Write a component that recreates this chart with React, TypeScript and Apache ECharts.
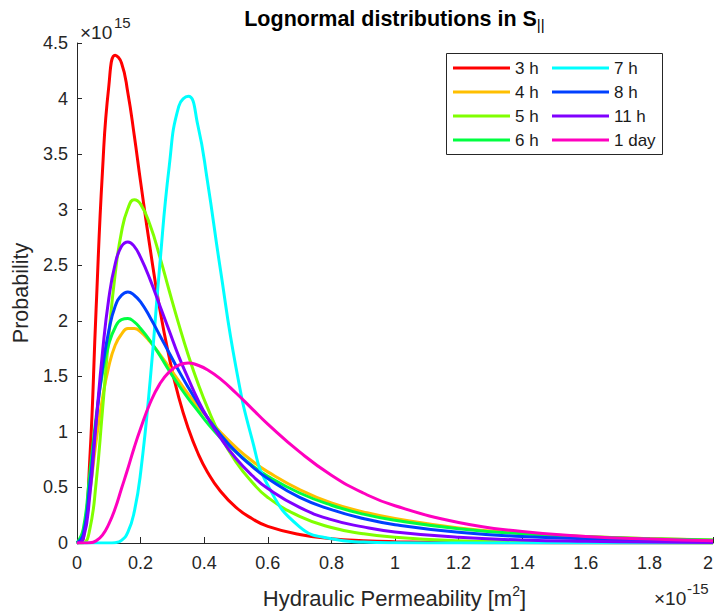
import React, { useEffect, useRef } from "react";
import * as echarts from "echarts";

// Hydraulic permeability (×1e-15 m²)
const xs = [0, 0.02, 0.04, 0.06, 0.08, 0.1, 0.12, 0.14, 0.16, 0.18, 0.2, 0.23, 0.26, 0.29, 0.32, 0.35, 0.38, 0.41, 0.45, 0.5, 0.55, 0.6, 0.7, 0.8, 0.9, 1.0, 1.2, 1.4, 1.6, 1.8, 2.0];

// Probability (×1e15)
const h3 = [0, 0.04, 0.74, 2.1, 3.34, 4.11, 4.39, 4.32, 4.05, 3.67, 3.25, 2.65, 2.11, 1.67, 1.31, 1.03, 0.81, 0.64, 0.47, 0.32, 0.22, 0.15, 0.076, 0.039, 0.021, 0.012, 0.004, 0.0014, 0.0005, 0.0002, 0.0001];
const h4 = [0, 0.08, 0.45, 0.91, 1.3, 1.59, 1.78, 1.88, 1.93, 1.93, 1.9, 1.81, 1.7, 1.58, 1.46, 1.34, 1.23, 1.13, 1.0, 0.86, 0.74, 0.64, 0.48, 0.36, 0.28, 0.22, 0.136, 0.088, 0.059, 0.04, 0.028];
const h5 = [0, 0.003, 0.12, 0.54, 1.19, 1.86, 2.42, 2.8, 3.01, 3.09, 3.05, 2.86, 2.58, 2.27, 1.97, 1.69, 1.44, 1.22, 0.97, 0.73, 0.55, 0.41, 0.24, 0.14, 0.084, 0.051, 0.02, 0.0086, 0.0039, 0.0019, 0.0009];
const h6 = [0, 0.13, 0.62, 1.13, 1.53, 1.79, 1.94, 2.01, 2.02, 1.99, 1.93, 1.82, 1.69, 1.55, 1.42, 1.3, 1.19, 1.08, 0.95, 0.82, 0.7, 0.6, 0.45, 0.34, 0.26, 0.205, 0.129, 0.084, 0.056, 0.039, 0.028];
const h7 = [0, 0, 0, 0, 0, 0, 0.003, 0.023, 0.097, 0.28, 0.63, 1.46, 2.49, 3.39, 3.93, 4.02, 3.76, 3.26, 2.48, 1.58, 0.94, 0.52, 0.146, 0.038, 0.009, 0.002, 0, 0, 0, 0, 0];
const h8 = [0, 0.08, 0.52, 1.09, 1.57, 1.91, 2.13, 2.23, 2.26, 2.23, 2.17, 2.03, 1.87, 1.71, 1.55, 1.4, 1.26, 1.13, 0.98, 0.82, 0.69, 0.58, 0.41, 0.3, 0.22, 0.165, 0.096, 0.058, 0.037, 0.024, 0.016];
const h11 = [0, 0.04, 0.42, 1.08, 1.71, 2.2, 2.51, 2.67, 2.71, 2.67, 2.57, 2.37, 2.14, 1.91, 1.68, 1.48, 1.29, 1.13, 0.95, 0.76, 0.61, 0.49, 0.32, 0.21, 0.145, 0.1, 0.051, 0.027, 0.015, 0.009, 0.005];
const d1 = [0, 0, 0.002, 0.019, 0.071, 0.17, 0.31, 0.49, 0.67, 0.86, 1.03, 1.26, 1.43, 1.54, 1.6, 1.62, 1.6, 1.56, 1.48, 1.35, 1.21, 1.07, 0.82, 0.61, 0.45, 0.335, 0.185, 0.104, 0.059, 0.035, 0.021];

const seriesNames = ["3 h", "4 h", "5 h", "6 h", "7 h", "8 h", "11 h", "1 day"];
const seriesValues = [h3, h4, h5, h6, h7, h8, h11, d1];
const seriesColors = ["#FF0000", "#FFBF00", "#80FF00", "#00FF40", "#00FFFF", "#0040FF", "#8000FF", "#FF00BF"];
const legendCol1 = ["3 h", "4 h", "5 h", "6 h"];
const legendCol2 = ["7 h", "8 h", "11 h", "1 day"];

const FONT = "'Liberation Sans', Arial, Helvetica, sans-serif";
const AX = "#262626";

export default function App() {
  const ref = useRef<HTMLDivElement>(null);
  useEffect(() => {
    if (!ref.current) return;
    const chart = echarts.init(ref.current, undefined, { renderer: "svg" });
    const legendCommon = {
      orient: "vertical",
      top: 59.5,
      padding: 0,
      itemWidth: 57,
      itemHeight: 3,
      itemGap: 7,
      icon: "rect",
      selectedMode: false,
      textStyle: { fontSize: 17, color: "#1a1a1a", fontFamily: FONT },
      z: 10,
    };
    chart.setOption({
      animation: false,
      backgroundColor: "#ffffff",
      title: {
        text: "{b|Lognormal distributions in S}{sub|||}{sp| }",
        left: 395,
        top: 8,
        padding: 0,
        textAlign: "center",
        textStyle: {
          rich: {
            b: { fontSize: 21.5, fontWeight: "bold", fontFamily: FONT, color: "#000", lineHeight: 22, verticalAlign: "top" },
            sub: { fontSize: 15, fontWeight: "normal", fontFamily: FONT, color: "#000", lineHeight: 15, verticalAlign: "bottom" },
            sp: { fontSize: 4, lineHeight: 24 },
          },
        },
      },
      grid: { left: 77, top: 43, width: 636, height: 500, containLabel: false, outerBoundsMode: "none" },
      legend: [
        { ...legendCommon, left: 453, data: legendCol1 },
        { ...legendCommon, left: 552, data: legendCol2 },
      ],
      graphic: [
        {
          type: "rect",
          z: 5,
          shape: { x: 446.5, y: 53.5, width: 216, height: 101 },
          style: { fill: "#fff", stroke: AX, lineWidth: 1 },
        },
        { type: "text", x: 80, y: 32, style: { text: "×10", font: `19px ${FONT}`, fill: AX, verticalAlign: "middle", align: "left" } },
        { type: "text", x: 114, y: 22, style: { text: "15", font: `15px ${FONT}`, fill: AX, verticalAlign: "middle", align: "left" } },
        { type: "text", x: 654, y: 598, style: { text: "×10", font: `19px ${FONT}`, fill: AX, verticalAlign: "middle", align: "left" } },
        { type: "text", x: 687, y: 588, style: { text: "-15", font: `15px ${FONT}`, fill: AX, verticalAlign: "middle", align: "left" } },
      ],
      xAxis: {
        type: "value",
        min: 0,
        max: 2,
        interval: 0.2,
        name: "{t|Hydraulic Permeability [m}{sup|2}{t|]}{sp| }",
        nameLocation: "middle",
        nameGap: 41,
        nameTextStyle: {
          rich: {
            t: { fontSize: 22, fontFamily: FONT, color: AX, lineHeight: 18, verticalAlign: "bottom" },
            sup: { fontSize: 14, fontFamily: FONT, color: AX, lineHeight: 14, verticalAlign: "top" },
            sp: { fontSize: 4, lineHeight: 25 },
          },
        },
        axisLine: { show: true, lineStyle: { color: AX, width: 1 } },
        axisTick: { show: true, inside: true, length: 6, lineStyle: { color: AX } },
        axisLabel: { show: true, margin: 11, fontSize: 18, fontFamily: FONT, color: AX, showMinLabel: true, showMaxLabel: true, hideOverlap: false, alignMaxLabel: "right" },
        splitLine: { show: false },
      },
      yAxis: {
        type: "value",
        min: 0,
        max: 4.5,
        interval: 0.5,
        name: "Probability",
        nameLocation: "middle",
        nameGap: 42,
        nameTextStyle: { fontSize: 21.5, fontFamily: FONT, color: AX },
        axisLine: { show: true, lineStyle: { color: AX, width: 1 } },
        axisTick: { show: true, inside: true, length: 5, lineStyle: { color: AX } },
        axisLabel: { show: true, margin: 9, fontSize: 18, fontFamily: FONT, color: AX, showMinLabel: true, showMaxLabel: true, hideOverlap: false },
        splitLine: { show: false },
      },
      series: seriesNames.map((name, i) => ({
        name,
        type: "line",
        data: xs.map((x, j) => [x, seriesValues[i][j]]),
        showSymbol: false,
        symbol: "none",
        smooth: 0.5,
        color: seriesColors[i],
        itemStyle: { color: seriesColors[i] },
        lineStyle: { color: seriesColors[i], width: 3 },
        z: 2 + i * 0.01,
      })),
    });
    return () => chart.dispose();
  }, []);
  return <div ref={ref} style={{ width: 715, height: 611, position: "absolute", left: 0, top: 0 }} />;
}
